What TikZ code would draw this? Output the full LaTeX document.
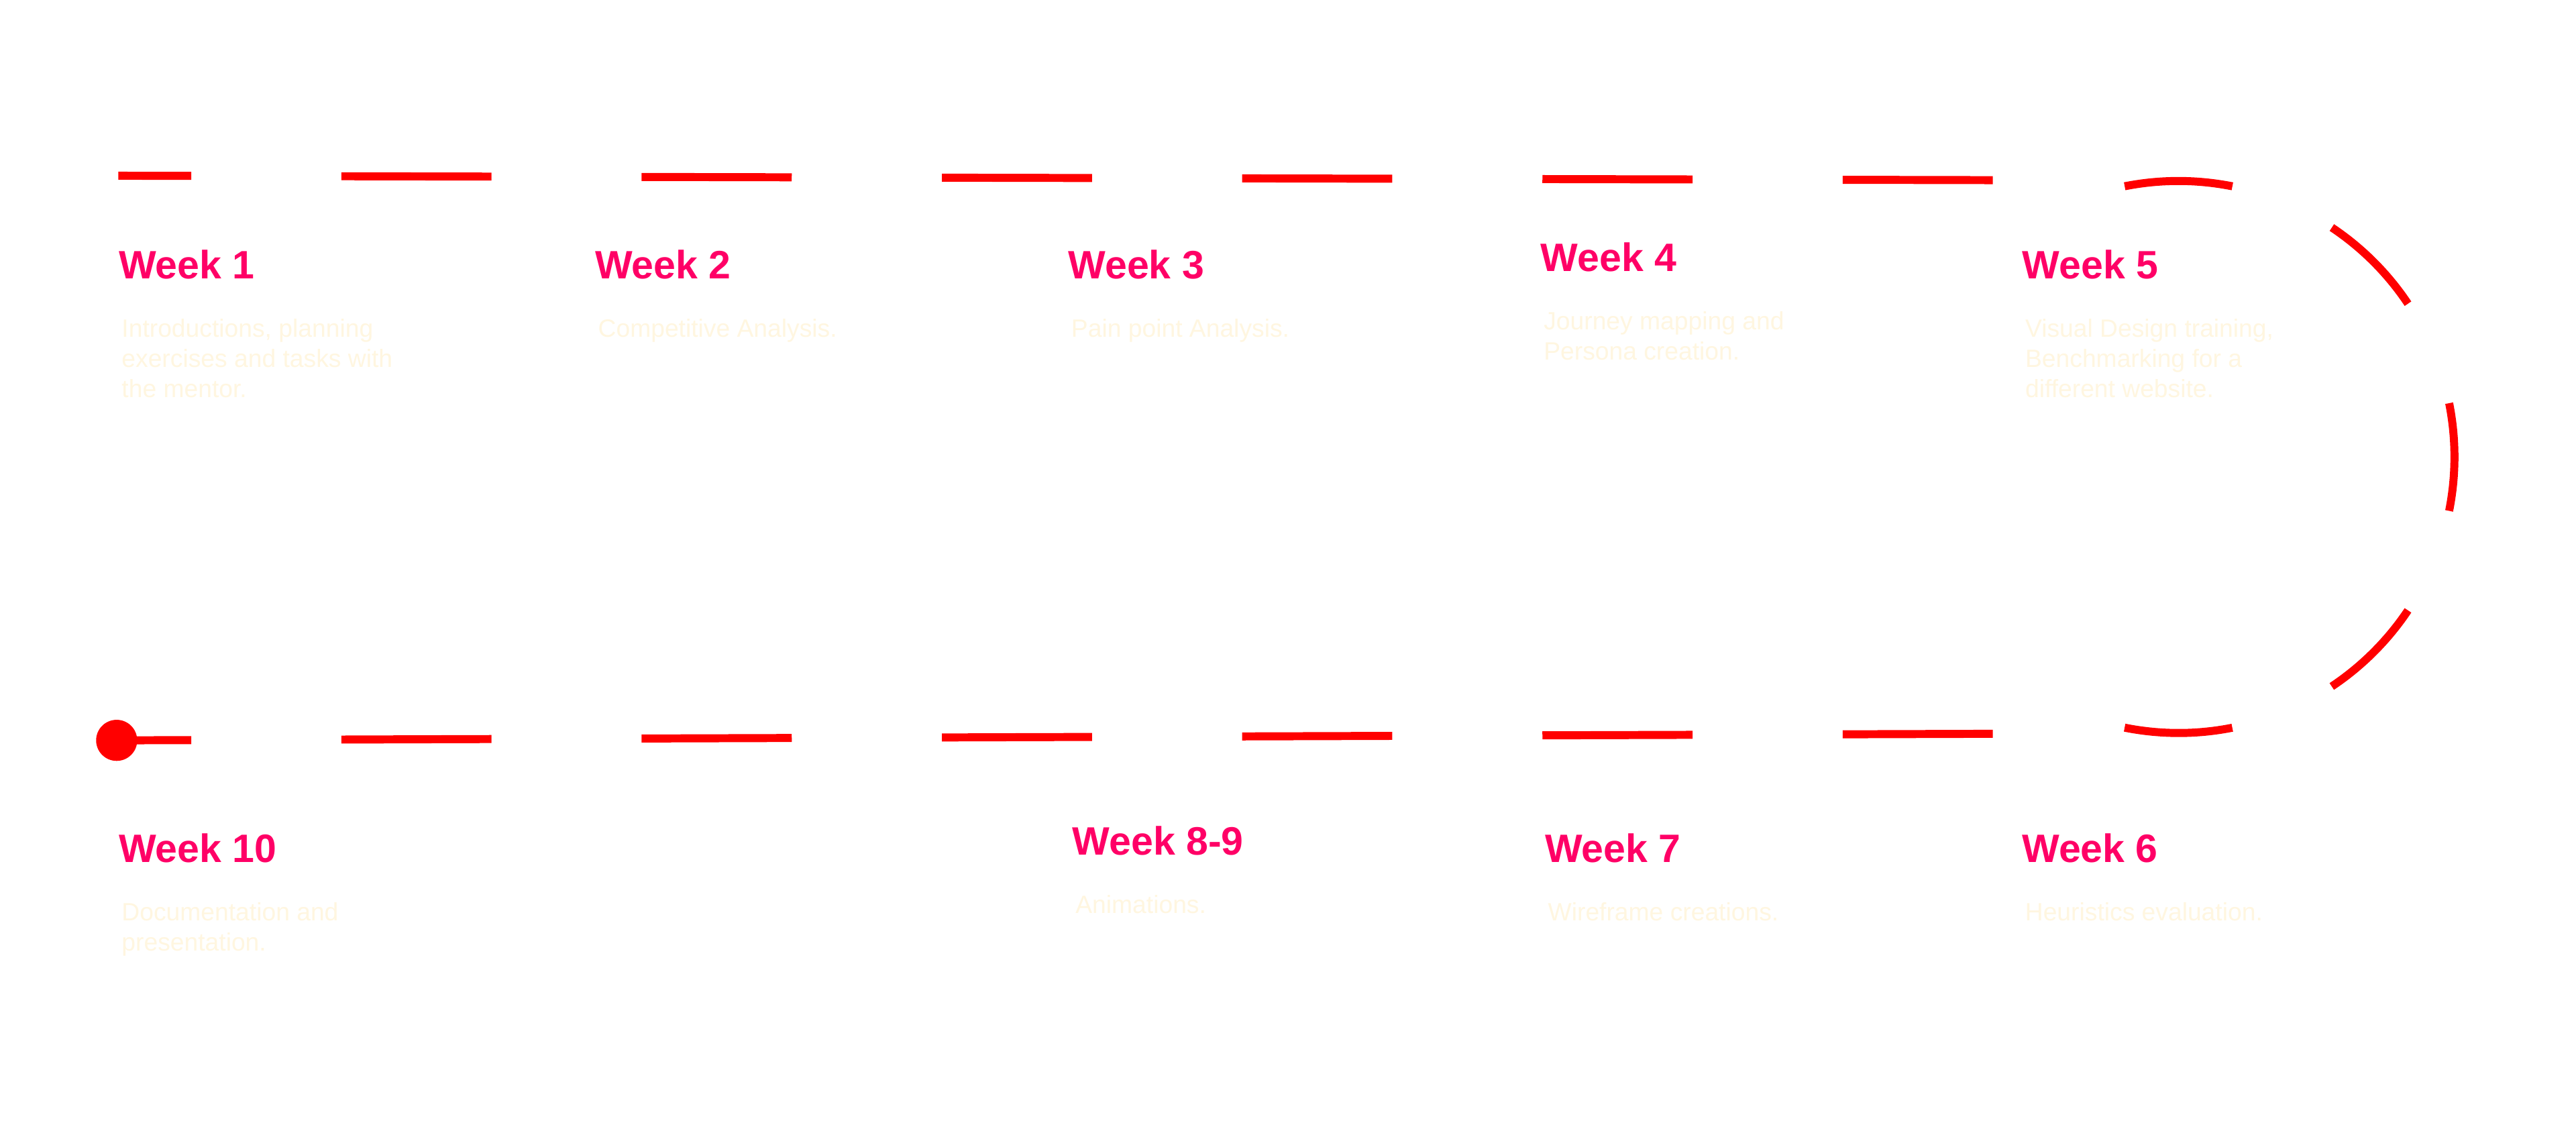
\documentclass[tikz,border=0pt]{standalone}
\usepackage{fontspec}
\setmainfont{Liberation Sans}
\usetikzlibrary{positioning}
\definecolor{weekpink}{RGB}{255,0,102}
\definecolor{pathred}{RGB}{255,0,0}
\definecolor{notecream}{RGB}{255,246,224}
% note text whose baseline is that of its first line
\newcommand{\notelines}[1]{\begin{tabular}[t]{@{}l@{}}#1\end{tabular}}

\begin{document}
\begin{tikzpicture}[x=0.02449cm, y=0.02449cm,
      week/.style={anchor=base west, inner sep=0pt, text=weekpink,
                   font=\fontsize{16.8}{20}\selectfont\bfseries},
      note/.style={anchor=base west, inner sep=0pt, text=notecream,
                   font=\fontsize{10.6}{12.8}\selectfont},
      track/.style={draw=pathred, line width=3.4pt,
                    dash pattern=on 2.238cm off 2.238cm},
      uturn/.style={draw=pathred, line width=3.4pt,
                    dash pattern=on 1.6156cm off 1.6156cm}]

    \def\dy{35.5}  % title baseline to first note line
    \def\dx{1.8}   % note indent

    % canvas
    \fill[white] (0,0) rectangle (1568,689.67);

    % ends of the dashed track
    \coordinate (tr) at (1213,580);
    \coordinate (tl) at (72,582.7);
    \coordinate (br) at (1213,243);
    \coordinate (bl) at (71,239);
    \coordinate (turn) at (1326,411.5);

    \draw[track] (tr) -- (tl);
    \draw[track] (br) -- (bl);
    \draw[uturn] (turn) ++(-101.25:168) arc[start angle=-101.25, end angle=101.25, radius=168];
    \fill[pathred] (bl) circle[radius=12.5];

    % top row
    \node[week] (w1) at (72,519.9) {Week 1};
    \node[note] (n1) at ([shift={(\dx,-\dy)}]w1.base west)
      {\notelines{Introductions, planning\\exercises and tasks with\\the mentor.}};
    \node[week] (w2) at (362,519.9) {Week 2};
    \node[note] (n2) at ([shift={(\dx,-\dy)}]w2.base west) {Competitive Analysis.};
    \node[week] (w3) at (650,519.9) {Week 3};
    \node[note] (n3) at ([shift={(\dx,-\dy)}]w3.base west) {Pain point Analysis.};
    \node[week] (w4) at (937.6,524.6) {Week 4};
    \node[note] (n4) at ([shift={(\dx,-\dy)}]w4.base west)
      {\notelines{Journey mapping and\\Persona creation.}};
    \node[week] (w5) at (1230.7,519.9) {Week 5};
    \node[note] (n5) at ([shift={(\dx,-\dy)}]w5.base west)
      {\notelines{Visual Design training,\\Benchmarking for a\\different website.}};

    % bottom row
    \node[week] (w10) at (72,164.6) {Week 10};
    \node[note] (n10) at ([shift={(\dx,-\dy)}]w10.base west)
      {\notelines{Documentation and\\presentation.}};
    \node[week] (w89) at (652.6,169.4) {Week 8-9};
    \node[note] (n89) at ([shift={(\dx,-\dy)}]w89.base west) {Animations.};
    \node[week] (w7) at (940.2,164.6) {Week 7};
    \node[note] (n7) at ([shift={(\dx,-\dy)}]w7.base west) {Wireframe creations.};
    \node[week] (w6) at (1230.6,164.6) {Week 6};
    \node[note] (n6) at ([shift={(\dx,-\dy)}]w6.base west) {Heuristics evaluation.};

\end{tikzpicture}
\end{document}
